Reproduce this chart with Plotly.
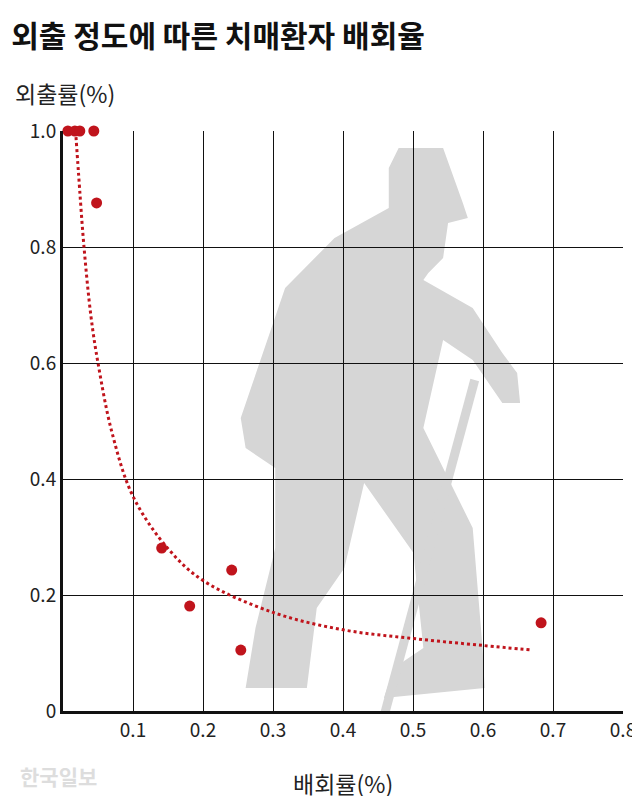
import plotly.graph_objects as go

# 배회률 (x) / 외출률 (y)
wander = [0.007, 0.017, 0.024, 0.044, 0.048, 0.141, 0.181, 0.241, 0.254, 0.683]
outing = [1.0, 1.0, 1.0, 1.0, 0.876, 0.281, 0.181, 0.243, 0.105, 0.152]

# dotted trend line
trend_x = [0.018, 0.022, 0.03, 0.04, 0.05, 0.07, 0.1, 0.15, 0.2, 0.3, 0.4, 0.5, 0.6, 0.67]
trend_y = [1.0, 0.93, 0.80, 0.68, 0.60, 0.48, 0.37, 0.28, 0.225, 0.17, 0.14, 0.125, 0.113, 0.105]

xticks = [0, 0.1, 0.2, 0.3, 0.4, 0.5, 0.6, 0.7, 0.8]
xlabels = ["", "0.1", "0.2", "0.3", "0.4", "0.5", "0.6", "0.7", "0.8"]
yticks = [0, 0.2, 0.4, 0.6, 0.8, 1.0]
ylabels = ["0", "0.2", "0.4", "0.6", "0.8", "1.0"]

red = "#c0141c"


def px(p):
    # picture pixel -> data coords (background silhouette only)
    return (p[0] - 55) / 709, (703 - p[1]) / 580


body = [(395, 140), (440, 140), (460, 195), (465, 210), (445, 215), (440, 250),
        (425, 265), (420, 272), (470, 300), (500, 345), (515, 365), (518, 395),
        (500, 395), (470, 352), (440, 332), (420, 420), (470, 520), (480, 640),
        (482, 680), (380, 690), (390, 660), (420, 640), (410, 545), (360, 475),
        (340, 560), (312, 600), (302, 680), (240, 680), (250, 620), (270, 540),
        (270, 460), (240, 440), (235, 410), (280, 280), (330, 230), (385, 200),
        (385, 160)]
path = "M " + " L ".join("%.4f,%.4f" % px(p) for p in body) + " Z"

fig = go.Figure()
fig.add_shape(type="path", path=path, xref="x", yref="y",
              fillcolor="#d6d6d6", line_width=0, layer="below")
c0, c1 = px((472, 372)), px((378, 716))
fig.add_shape(type="line", x0=c0[0], y0=c0[1], x1=c1[0], y1=c1[1],
              line=dict(color="#d6d6d6", width=9), layer="below")

fig.add_trace(go.Scatter(x=trend_x, y=trend_y, mode="lines",
                         line=dict(color=red, width=3, dash="dot", shape="spline")))
fig.add_trace(go.Scatter(x=wander, y=outing, mode="markers",
                         marker=dict(color=red, size=11), cliponaxis=False))

fig.update_layout(
    width=640, height=796, showlegend=False,
    paper_bgcolor="white", plot_bgcolor="rgba(0,0,0,0)",
    margin=dict(l=55, r=18, t=123, b=93),
    font=dict(family="Noto Sans CJK KR", size=19, color="#222"),
    title=dict(text="<b>외출 정도에 따른 치매환자 배회율</b>", x=0.005, y=0.978,
               xanchor="left", yanchor="top", font=dict(size=30, color="#111")),
    annotations=[
        dict(text="외출률(%)", x=-0.09, y=1.066, xref="paper", yref="paper",
             xanchor="left", yanchor="middle", showarrow=False, font=dict(size=23)),
        dict(text="배회률(%)", x=0.5, y=-0.124, xref="paper", yref="paper",
             xanchor="center", yanchor="middle", showarrow=False, font=dict(size=23)),
        dict(text="<b>한국일보</b>", x=-0.08, y=-0.112, xref="paper", yref="paper",
             xanchor="left", yanchor="middle", showarrow=False,
             font=dict(size=21, color="#dddddd")),
    ],
)
fig.update_xaxes(range=[0, 0.8], tickvals=xticks, ticktext=xlabels,
                 showgrid=True, gridcolor="#111", gridwidth=1,
                 showline=True, linecolor="#111", linewidth=3,
                 zeroline=False, ticks="")
fig.update_yaxes(range=[0, 1.0], tickvals=yticks, ticktext=ylabels,
                 showgrid=True, gridcolor="#111", gridwidth=1,
                 showline=True, linecolor="#111", linewidth=3,
                 zeroline=False, ticks="")

fig.write_html("out.html")
